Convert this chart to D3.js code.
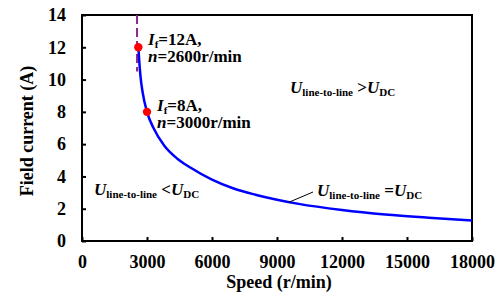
<!DOCTYPE html>
<html>
<head>
<meta charset="utf-8">
<script src="https://cdn.jsdelivr.net/npm/d3@7"></script>
<style>
  body { margin: 0; background: #fff; }
  .axis path, .axis line { stroke: #000; stroke-width: 2px; }
</style>
</head>
<body>
<svg id="chart" width="499" height="293"></svg>
<script>
// field current vs speed along the Uline = UDC boundary
var speed   = [2600, 2650, 2700, 2800, 3000, 3300, 3800, 4400, 5000, 6000, 7000, 8000, 9000, 10000, 12000, 14000, 16000, 18000];
var current = [12.0, 11.0, 10.2, 9.2, 8.0, 7.0, 5.9, 5.1, 4.55, 3.8, 3.25, 2.87, 2.56, 2.3, 1.92, 1.64, 1.44, 1.27];

// operating points marked in red
var pointSpeed   = [2600, 3000];
var pointCurrent = [12, 8];

// vertical dashed limit
var limitSpeed = 2540;
var limitRange = [10.5, 14];

var xTicks = [0, 3000, 6000, 9000, 12000, 15000, 18000];
var yTicks = [0, 2, 4, 6, 8, 10, 12, 14];

var FONT = "'Liberation Serif', 'Times New Roman', 'DejaVu Serif', serif";

var svg = d3.select("#chart")
    .attr("font-family", FONT)
    .attr("font-weight", "bold");

var x = d3.scaleLinear().domain([0, 18000]).range([82, 472]);
var y = d3.scaleLinear().domain([0, 14]).range([241, 15]);

// frame
svg.append("rect")
    .attr("x", x(0)).attr("y", y(14))
    .attr("width", x(18000) - x(0)).attr("height", y(0) - y(14))
    .attr("fill", "none").attr("stroke", "#000").attr("stroke-width", 2);

var xAxis = svg.append("g")
    .attr("class", "axis")
    .attr("transform", "translate(0," + y(0) + ")")
    .call(d3.axisBottom(x).tickValues(xTicks).tickFormat(d3.format("d"))
      .tickSizeInner(-4).tickSizeOuter(0).tickPadding(14));
xAxis.attr("font-family", FONT).attr("font-size", 18);
xAxis.select(".domain").remove();
xAxis.selectAll("text").attr("fill", "#000");

var yAxis = svg.append("g")
    .attr("class", "axis")
    .attr("transform", "translate(" + x(0) + ",0)")
    .call(d3.axisLeft(y).tickValues(yTicks)
      .tickSizeInner(-4).tickSizeOuter(0).tickPadding(16));
yAxis.attr("font-family", FONT).attr("font-size", 18);
yAxis.select(".domain").remove();
yAxis.selectAll("text").attr("fill", "#000");

// axis titles
svg.append("text")
    .attr("x", 279).attr("y", 288)
    .attr("text-anchor", "middle").attr("font-size", 18)
    .text("Speed (r/min)");

svg.append("text")
    .attr("transform", "translate(27,131) rotate(-90)")
    .attr("dy", "0.35em")
    .attr("text-anchor", "middle").attr("font-size", 18)
    .text("Field current (A)");

// dashed limit line
svg.append("line")
    .attr("x1", x(limitSpeed)).attr("x2", x(limitSpeed))
    .attr("y1", y(limitRange[1])).attr("y2", y(limitRange[0]))
    .attr("stroke", "#8a2a8a").attr("stroke-width", 2)
    .attr("stroke-dasharray", "9,4");

// curve
var line = d3.line()
    .x(function(d, i) { return x(speed[i]); })
    .y(function(d) { return y(d); })
    .curve(d3.curveMonotoneX);

svg.append("path")
    .datum(current)
    .attr("fill", "none")
    .attr("stroke", "#0000ff")
    .attr("stroke-width", 2.5)
    .attr("d", line);

svg.selectAll(".pt")
    .data(pointCurrent)
  .enter().append("circle")
    .attr("class", "pt")
    .attr("cx", function(d, i) { return x(pointSpeed[i]); })
    .attr("cy", function(d) { return y(d); })
    .attr("r", 4.2)
    .attr("fill", "#ff0000");

// point labels
function pointLabel(px, py, cur, spd) {
  var t1 = svg.append("text").attr("x", px).attr("y", py).attr("font-size", 17);
  t1.append("tspan").attr("font-style", "italic").text("I");
  t1.append("tspan").attr("font-size", 11).attr("dy", 3).text("f");
  t1.append("tspan").attr("dy", -3).text("=" + cur + "A,");
  var t2 = svg.append("text").attr("x", px).attr("y", py + 17).attr("font-size", 17);
  t2.append("tspan").attr("font-style", "italic").text("n");
  t2.append("tspan").text("=" + spd + "r/min");
}
pointLabel(148, 45, pointCurrent[0], pointSpeed[0]);
pointLabel(157, 111, pointCurrent[1], pointSpeed[1]);

// region labels
function regionLabel(px, py, op) {
  var t = svg.append("text").attr("x", px).attr("y", py).attr("font-size", 17);
  t.append("tspan").attr("font-style", "italic").text("U");
  t.append("tspan").attr("font-size", 11).attr("dy", 3).text("line-to-line");
  t.append("tspan").attr("dy", -3).text(" " + op);
  t.append("tspan").attr("font-style", "italic").text("U");
  t.append("tspan").attr("font-size", 11).attr("dy", 3).text("DC");
}
regionLabel(290, 93, ">");
regionLabel(94, 195, "<");
regionLabel(317, 196, "=");

// leader line to the curve
svg.append("line")
    .attr("x1", x(9550)).attr("y1", y(2.4))
    .attr("x2", 313).attr("y2", 192)
    .attr("stroke", "#000").attr("stroke-width", 1);
</script>
</body>
</html>
